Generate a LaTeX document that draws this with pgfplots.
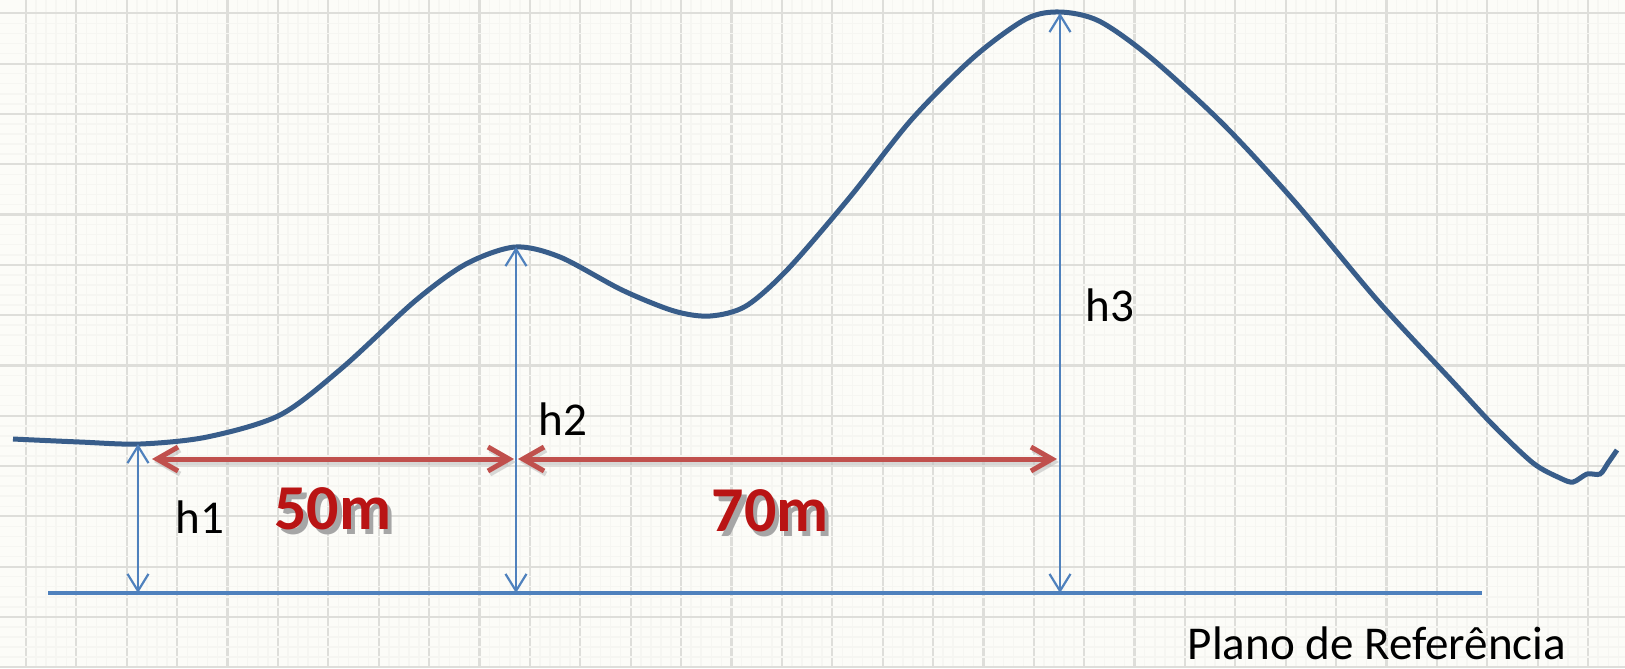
\documentclass[border=0pt]{standalone}
\usepackage{pgfplots}
\pgfplotsset{compat=1.18}
\usepackage{fontspec}
\setmainfont{Carlito}
\usetikzlibrary{arrows.meta}
\definecolor{bg}{RGB}{252,252,248}
\definecolor{gridc}{RGB}{222,222,218}
\definecolor{minorc}{RGB}{246,246,242}
\definecolor{curvec}{RGB}{56,93,138}
\definecolor{refb}{RGB}{79,129,189}
\definecolor{arr}{RGB}{192,80,77}
\definecolor{txtred}{RGB}{185,20,20}
\newcommand\lblfont{\fontsize{13.4pt}{16pt}\selectfont}
\newcommand\bigfont{\fontsize{18.2pt}{20pt}\selectfont\bfseries}
\newcommand\fancy[3]{%
  \node[anchor=base, text=black!35, font=\bigfont, xshift=0.45mm, yshift=-0.55mm] at (axis cs:#1,#2) {#3};
  \node[anchor=base, text=txtred, font=\bigfont] at (axis cs:#1,#2) {#3};
}
\begin{document}
\begin{tikzpicture}
\begin{axis}[
  width=16.25cm, height=6.68cm, scale only axis,
  xmin=0, xmax=1625, ymin=0, ymax=668, y dir=reverse,
  axis line style={draw=none},
  xtick={26,76.39,...,1625}, ytick={13.3,63.6,...,668},
  minor x tick num=4, minor y tick num=4,
  xticklabel=\empty, yticklabel=\empty,
  major tick length=0pt, minor tick length=0pt,
  grid=both,
  major grid style={draw=gridc, line width=0.22mm},
  minor grid style={draw=minorc, line width=0.15mm},
  axis background/.style={fill=bg},
  clip=false,
]
% terrain profile
\addplot[curvec, line width=0.5mm, smooth, tension=0.5] coordinates {
  (13,439) (80,442) (140,444) (207,437) (280,415) (342,368) (415,301)
  (466,264) (515,247) (560,257) (622,290) (674,311) (710,316) (746,306)
  (788,269) (850,197) (912,119) (974,57) (1026,19) (1060,12) (1099,21)
  (1150,57) (1223,124) (1295,202) (1378,301) (1453,382) (1493,425)
  (1533,463) (1560,478) (1573,482) (1587,474) (1600,474) (1608,463) (1617,450)
};
% reference plane
\addplot[refb, line width=0.4mm] coordinates {(48,593) (1482,593)};
% height arrows
\addplot[refb, line width=0.22mm, arrows={Straight Barb[length=1.7mm,width=2.1mm]-Straight Barb[length=1.7mm,width=2.1mm]}] coordinates {(138,444) (138,593)};
\addplot[refb, line width=0.22mm, arrows={Straight Barb[length=1.7mm,width=2.1mm]-Straight Barb[length=1.7mm,width=2.1mm]}] coordinates {(516,247) (516,593)};
\addplot[refb, line width=0.22mm, arrows={Straight Barb[length=1.7mm,width=2.1mm]-Straight Barb[length=1.7mm,width=2.1mm]}] coordinates {(1060,13) (1060,593)};
% distance arrows (shadow)
\addplot[black!25, opacity=0.6, line width=0.5mm, arrows={Straight Barb[length=2.1mm,width=2.4mm]-Straight Barb[length=2.1mm,width=2.4mm]}] coordinates {(154,462) (516,462)};
\addplot[black!25, opacity=0.6, line width=0.5mm, arrows={Straight Barb[length=2.1mm,width=2.4mm]-Straight Barb[length=2.1mm,width=2.4mm]}] coordinates {(520,462) (1059,462)};
% distance arrows
\addplot[arr, line width=0.5mm, arrows={Straight Barb[length=2.1mm,width=2.4mm]-Straight Barb[length=2.1mm,width=2.4mm]}] coordinates {(152,459) (514,459)};
\addplot[arr, line width=0.5mm, arrows={Straight Barb[length=2.1mm,width=2.4mm]-Straight Barb[length=2.1mm,width=2.4mm]}] coordinates {(518,459) (1057,459)};
% labels
\node[anchor=base west, font=\lblfont, inner sep=0pt] at (axis cs:175,533) {h1};
\node[anchor=base west, font=\lblfont, inner sep=0pt] at (axis cs:538,435) {h2};
\node[anchor=base west, font=\lblfont, inner sep=0pt] at (axis cs:1085,321) {h3};
\node[anchor=base west, font=\lblfont, inner sep=0pt] at (axis cs:1187,659) {Plano de Referência};
\fancy{333}{529}{50m}
\fancy{770}{531}{70m}
\end{axis}
\pgfresetboundingbox
\useasboundingbox (current axis.south west) rectangle (current axis.north east);
\end{tikzpicture}
\end{document}
